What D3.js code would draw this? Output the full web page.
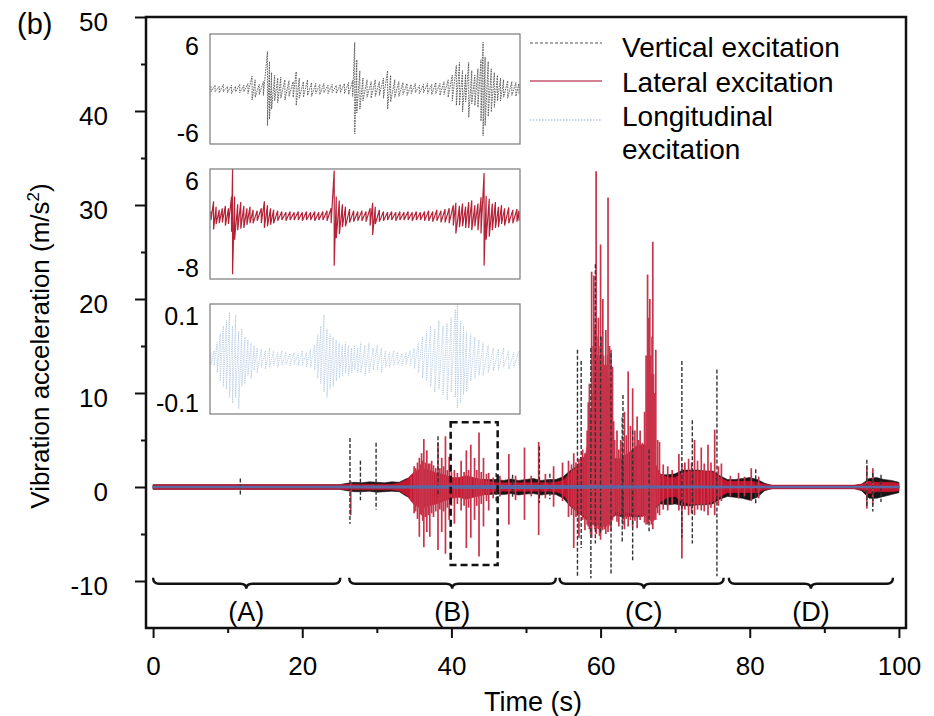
<!DOCTYPE html>
<html>
<head>
<meta charset="utf-8">
<script src="https://cdn.jsdelivr.net/npm/d3@7"></script>
<style>
  body { margin: 0; background: #fff; }
  svg { display: block; font-family: "Liberation Sans", Arial, sans-serif; }
</style>
</head>
<body>
<div id="chart"></div>
<script>
// ---- main trace: 1 s envelope of the dense part (index = time in s) ----
const lateralHi = [
  0.25,0.25,0.25,0.25,0.25,0.25,0.25,0.25,0.25,0.25,
  0.25,0.25,0.25,0.25,0.25,0.25,0.25,0.25,0.25,0.25,
  0.25,0.25,0.25,0.25,0.25,0.25,0.3,0.3,0.3,0.3,
  0.3,0.3,0.3,0.4,0.8,1.6,2.0,1.8,1.5,1.3,
  1.0,1.0,1.2,1.0,0.8,0.6,0.45,0.45,0.45,0.45,
  0.45,0.45,0.45,0.45,0.5,0.7,1.6,2.2,3.5,8.0,
  9.0,6.0,2.8,3.2,3.8,4.5,4.5,3.0,1.4,1.0,
  1.0,1.5,1.7,1.7,1.7,1.6,1.0,0.6,0.6,0.6,
  0.6,0.5,0.3,0.2,0.2,0.2,0.2,0.2,0.2,0.2,
  0.2,0.2,0.2,0.2,0.2,0.3,0.6,0.5,0.5,0.5,
  0.4
];
const lateralLo = [
  -0.25,-0.25,-0.25,-0.25,-0.25,-0.25,-0.25,-0.25,-0.25,-0.25,
  -0.25,-0.25,-0.25,-0.25,-0.25,-0.25,-0.25,-0.25,-0.25,-0.25,
  -0.25,-0.25,-0.25,-0.25,-0.25,-0.25,-0.3,-0.3,-0.3,-0.3,
  -0.3,-0.3,-0.3,-0.4,-0.9,-1.9,-2.3,-2.0,-1.8,-1.5,
  -1.2,-1.1,-1.3,-1.1,-0.9,-0.7,-0.45,-0.45,-0.45,-0.45,
  -0.45,-0.45,-0.45,-0.45,-0.5,-0.8,-2.0,-2.6,-3.2,-3.8,
  -3.8,-3.4,-2.6,-2.6,-2.8,-3.0,-3.0,-2.4,-1.6,-1.1,
  -1.0,-1.6,-1.8,-1.8,-1.8,-1.6,-1.0,-0.6,-0.6,-0.6,
  -0.6,-0.6,-0.3,-0.2,-0.2,-0.2,-0.2,-0.2,-0.2,-0.2,
  -0.2,-0.2,-0.2,-0.2,-0.2,-0.3,-0.7,-0.5,-0.5,-0.5,
  -0.4
];
const verticalHi = [
  0.25,0.25,0.25,0.25,0.25,0.25,0.25,0.25,0.25,0.25,
  0.25,0.25,0.25,0.25,0.25,0.25,0.25,0.25,0.25,0.25,
  0.25,0.25,0.25,0.25,0.25,0.25,0.4,0.5,0.45,0.55,
  0.5,0.45,0.55,0.5,0.9,1.0,1.0,1.0,1.0,1.0,
  0.8,0.8,0.8,0.8,0.8,0.8,0.8,0.7,0.85,0.7,
  0.8,0.9,0.7,0.8,0.8,1.1,1.8,2.3,3.0,4.0,
  4.0,3.5,3.0,3.0,2.6,2.6,2.6,2.2,1.3,1.3,
  1.4,1.8,1.8,1.8,1.7,1.7,1.2,0.8,0.8,0.9,
  1.0,0.8,0.4,0.15,0.15,0.15,0.15,0.15,0.15,0.15,
  0.15,0.15,0.15,0.15,0.15,0.3,0.9,1.0,0.8,0.7,
  0.5
];
const verticalLo = [
  -0.25,-0.25,-0.25,-0.25,-0.25,-0.25,-0.25,-0.25,-0.25,-0.25,
  -0.25,-0.25,-0.25,-0.25,-0.25,-0.25,-0.25,-0.25,-0.25,-0.25,
  -0.25,-0.25,-0.25,-0.25,-0.25,-0.25,-0.4,-0.5,-0.5,-0.45,
  -0.55,-0.5,-0.45,-0.5,-1.0,-1.1,-1.1,-1.1,-1.1,-1.1,
  -0.8,-0.8,-0.8,-0.8,-0.8,-0.8,-0.75,-0.8,-0.7,-0.85,
  -0.75,-0.7,-0.85,-0.75,-0.8,-1.2,-2.1,-2.7,-3.4,-4.0,
  -4.0,-3.6,-3.0,-3.2,-3.1,-3.2,-3.0,-2.5,-1.8,-1.9,
  -1.8,-2.0,-2.0,-1.9,-1.9,-1.8,-1.3,-1.0,-1.1,-1.2,
  -1.4,-1.1,-0.4,-0.15,-0.15,-0.15,-0.15,-0.15,-0.15,-0.15,
  -0.15,-0.15,-0.15,-0.15,-0.15,-0.4,-1.2,-1.2,-1.0,-0.8,
  -0.6
];
// longitudinal, 10 s steps (amplitude, m/s2)
const longitudinalAmp = [0.05,0.05,0.05,0.08,0.1,0.12,0.1,0.08,0.05,0.05,0.05];

// isolated spikes: [time, top, bottom]
const lateralSpikes = [
  [26.5,0.6,-3.0],[34.6,1.1,-1.4],[35.0,2.2,-2.8],[35.2,2.0,-2.6],[35.45,2.6,-3.4],[35.7,3.1,-5.3],
  [35.85,2.4,-2.9],[36.0,3.6,-3.0],[36.15,2.8,-3.6],[36.3,5.1,-6.4],[36.5,2.6,-3.2],[36.7,3.9,-4.8],
  [36.9,2.5,-3.0],[37.1,2.5,-5.3],[37.35,2.8,-2.8],[37.6,2.3,-3.2],[37.9,2.0,-2.6],[38.2,4.7,-6.7],
  [38.45,2.0,-2.4],[38.7,3.1,-4.8],[38.95,2.2,-2.6],[39.2,5.4,-7.1],[39.45,1.8,-2.2],[39.7,3.2,-3.5],
  [40.0,1.6,-2.0],[40.4,1.8,-3.9],[40.8,1.5,-1.8],[41.3,2.8,-2.5],[41.7,1.6,-2.0],[42.0,3.9,-6.5],
  [42.3,1.8,-2.2],[42.6,4.5,-5.4],[43.1,3.1,-3.5],[43.4,1.8,-2.0],[43.7,5.8,-7.4],[44.0,1.6,-1.8],
  [44.3,3.1,-4.2],[44.7,1.4,-1.5],[45.0,1.5,-2.5],[45.6,1.0,-1.2],[46.5,1.2,-1.0],[47.7,3.5,-4.0],
  [48.6,1.2,-1.4],[49.8,4.2,-3.5],[50.7,1.2,-1.0],[51.7,4.8,-5.1],[52.6,1.4,-1.2],[53.7,2.2,-2.1],
  [54.9,2.6,-1.5],[55.7,2.8,-3.2],
  [56.1,2.4,-3.0],[56.4,3.6,-6.5],[56.7,2.6,-3.2],[57.1,3.0,-5.4],[57.35,3.2,-3.0],[57.6,4.0,-3.5],
  [57.9,3.6,-4.6],[58.2,6.0,-4.0],[58.35,9,-4.2],[58.5,11,-4.5],[58.65,8,-5.0],[58.8,22.9,-5.4],
  [58.9,10,-3.8],[59.0,15,-4.0],[59.1,22.5,-4.0],[59.2,12,-4.2],[59.25,17,-4.5],[59.35,11,-4.0],
  [59.4,33.6,-5.0],[59.5,16,-4.4],[59.55,14,-3.8],[59.65,12,-4.0],[59.7,18,-4.5],[59.8,14,-4.2],
  [59.85,12,-5.2],[59.95,15,-4.0],[60.0,25.8,-5.6],[60.1,13,-4.4],[60.15,16,-4.0],[60.25,12,-4.6],
  [60.3,20,-4.0],[60.4,14,-4.2],[60.5,13,-4.5],[60.6,11,-3.8],[60.7,16.7,-5.0],[60.8,13,-4.2],
  [60.85,12,-3.6],[60.95,14,-4.0],[61.0,30.8,-4.8],[61.1,12,-4.2],[61.2,15,-4.0],[61.3,11,-3.8],
  [61.4,14.6,-4.7],[61.5,9,-3.6],[61.6,12.8,-3.5],[61.75,7,-3.2],[61.9,5,-3.0],
  [62.2,6,-3.7],[62.45,4,-4.2],[62.7,5,-3.0],[62.95,4.5,-3.6],[63.2,8,-4.5],[63.45,5.5,-3.4],
  [63.7,12.3,-4.2],[64.0,6.5,-3.5],[64.3,10.5,-4.3],[64.6,6.0,-3.6],[64.9,7.5,-4.4],[65.1,5.0,-3.0],
  [65.3,6.0,-3.5],[65.6,4.7,-3.2],[65.9,8.0,-3.8],[66.1,14.0,-4.0],[66.2,10,-3.6],[66.3,22.6,-4.0],
  [66.45,18,-3.8],[66.6,20,-3.5],[66.7,14,-3.6],[66.8,12,-4.0],[66.9,16,-3.8],[67.0,26.1,-4.5],
  [67.1,12,-3.6],[67.2,10,-3.5],[67.4,14.6,-3.5],[67.65,5.0,-2.8],
  [67.9,4.8,-3.0],[68.4,2.4,-2.4],[69.0,2.2,-2.5],[69.6,1.8,-1.8],[70.5,3.5,-2.5],[70.9,2.5,-7.6],
  [71.3,2.6,-2.4],[71.8,3.0,-3.0],[72.2,2.6,-2.8],[72.6,5.0,-3.0],[73.0,2.8,-2.4],[73.5,4.2,-2.5],
  [73.9,2.5,-2.6],[74.4,4.5,-3.0],[74.8,2.6,-2.2],[75.3,6.1,-3.0],[75.8,2.2,-2.0],[76.2,2.5,-1.5],
  [77.4,1.2,-1.0],[78.5,1.5,-1.2],[79.3,1.1,-1.0],[80.2,2.0,-1.5],[81.2,1.1,-1.2],
  [95.7,2.3,-2.3],[96.5,2.0,-1.9]
];
const verticalSpikes = [
  [11.7,0.9,-1.0],[26.4,5.2,-3.9],[27.8,2.8,-1.4],[29.9,4.7,-2.4],[38.2,5.4,-1.0],
  [46.0,1.5,-1.5],[48.2,1.3,-1.2],[51.8,4.3,-1.7],[53.2,1.4,-1.3],[56.9,14.6,-9.6],[57.4,13.4,-6.5],
  [58.7,14.8,-9.7],[59.3,23.7,-6.0],[60.0,16,-5.0],[61.4,14.2,-9.2],[62.9,7.4,-5.8],[63.0,9.8,-4.0],
  [64.3,6.0,-7.8],[66.5,4.0,-4.7],[70.9,13.4,-5.4],[72.3,7.1,-6.0],[75.6,12.5,-9.5],
  [80.8,1.9,-1.9],[95.7,2.9,-2.2],[96.5,1.5,-2.6],[97.6,1.3,-1.6]
];

// ---- insets: zoom of 40-46 s, [time, top, bottom] ----
const insetVertical = [
  [40.00,.3,-.3],[40.08,.4,-.3],[40.16,.3,-.4],[40.24,.5,-.3],[40.32,.3,-.4],[40.40,.4,-.5],
  [40.48,.3,-.3],[40.56,.5,-.4],[40.64,.4,-.3],[40.72,.6,-.5],[40.80,1.4,-1.2],[40.86,1.0,-.9],
  [40.94,.5,-.6],[41.02,.8,-.7],[41.10,4.1,-4.0],[41.14,3.0,-3.3],[41.18,1.8,-2.2],[41.24,1.5,-1.3],
  [41.30,1.2,-1.5],[41.36,1.3,-1.0],[41.44,1.0,-1.2],[41.52,.9,-.8],[41.60,.8,-.9],[41.66,1.9,-1.8],
  [41.72,1.2,-1.0],[41.80,.8,-.9],[41.88,1.0,-.7],[41.96,.7,-.8],[42.04,.6,-.5],[42.12,.5,-.6],
  [42.20,.6,-.4],[42.28,.4,-.5],[42.36,.5,-.4],[42.44,.4,-.5],[42.52,.5,-.4],[42.60,.6,-.5],
  [42.68,.7,-.6],[42.76,.9,-.8],[42.80,5.1,-4.9],[42.84,3.2,-2.6],[42.90,2.0,-2.2],[42.96,1.2,-1.3],
  [43.04,1.0,-.9],[43.12,.8,-1.0],[43.20,1.0,-.8],[43.28,.8,-.7],[43.36,1.2,-1.0],[43.44,2.0,-2.2],
  [43.50,1.5,-1.4],[43.58,1.0,-.9],[43.66,.8,-.8],[43.74,.7,-.6],[43.82,.6,-.7],[43.90,.5,-.5],
  [43.98,.6,-.4],[44.06,.4,-.5],[44.14,.5,-.4],[44.22,.6,-.5],[44.30,.5,-.6],[44.38,.7,-.5],
  [44.46,.6,-.7],[44.54,.8,-.6],[44.62,1.0,-.9],[44.70,1.5,-1.3],[44.78,2.6,-1.8],[44.84,2.9,-1.8],
  [44.90,2.0,-2.5],[44.96,1.6,-1.4],[45.02,2.9,-3.1],[45.08,2.0,-1.6],[45.14,1.5,-1.8],[45.20,2.2,-2.0],
  [45.26,3.2,-3.5],[45.30,5.1,-5.1],[45.34,3.5,-4.0],[45.40,3.0,-3.0],[45.46,2.2,-2.5],[45.52,1.8,-2.0],
  [45.58,1.5,-1.3],[45.64,1.2,-1.3],[45.70,1.0,-.9],[45.78,.9,-1.0],[45.86,.8,-.7],[45.94,.7,-.8],
  [46.00,.6,-.6]
];
const insetLateral = [
  [40.00,.6,-.5],[40.05,1.9,-1.7],[40.10,1.2,-1.0],[40.16,.8,-.9],[40.22,1.0,-.8],[40.28,1.3,-1.2],
  [40.34,1.0,-1.0],[40.40,2.5,-2.0],[40.42,6.0,-7.4],[40.46,2.5,-3.0],[40.52,1.5,-1.8],[40.58,1.8,-1.6],
  [40.64,1.3,-1.5],[40.70,1.0,-1.1],[40.76,1.2,-.9],[40.82,.8,-.9],[40.90,.7,-.6],[40.98,1.0,-.9],
  [41.04,1.9,-1.5],[41.10,1.4,-1.3],[41.16,1.0,-1.1],[41.22,.8,-.9],[41.30,.7,-.6],[41.38,.6,-.5],
  [41.46,.5,-.6],[41.54,.6,-.5],[41.62,.5,-.5],[41.70,.6,-.5],[41.78,.5,-.6],[41.86,.6,-.5],
  [41.94,.5,-.5],[42.02,.6,-.6],[42.10,.5,-.5],[42.18,.6,-.5],[42.26,.7,-.6],[42.34,1.0,-.9],
  [42.40,5.8,-6.3],[42.44,2.5,-2.8],[42.50,2.0,-2.3],[42.56,1.5,-1.4],[42.62,1.2,-1.3],[42.70,.9,-.8],
  [42.78,.7,-.7],[42.86,.6,-.6],[42.94,.7,-.6],[43.02,.6,-.7],[43.10,1.0,-1.2],[43.15,1.7,-2.4],
  [43.20,1.2,-1.0],[43.28,.8,-.7],[43.36,.6,-.6],[43.44,.5,-.5],[43.52,.6,-.5],[43.60,.5,-.6],
  [43.68,.6,-.5],[43.76,.5,-.5],[43.84,.6,-.5],[43.92,.5,-.6],[44.00,.6,-.5],[44.08,.5,-.5],
  [44.16,.6,-.6],[44.24,.7,-.6],[44.32,.6,-.7],[44.40,.8,-.6],[44.48,.7,-.8],[44.56,.9,-.8],
  [44.64,1.0,-.9],[44.72,1.4,-1.2],[44.77,1.7,-2.2],[44.84,1.3,-1.4],[44.90,1.6,-1.3],[44.96,1.2,-1.5],
  [45.02,1.8,-1.5],[45.08,2.0,-1.8],[45.14,1.4,-1.3],[45.20,1.6,-1.8],[45.26,2.4,-2.2],[45.32,5.5,-6.3],
  [45.36,2.6,-3.0],[45.42,2.2,-2.6],[45.48,1.6,-1.8],[45.54,1.8,-1.5],[45.60,1.2,-1.4],[45.66,1.4,-1.0],
  [45.72,1.0,-1.2],[45.80,1.1,-.9],[45.88,.8,-.9],[45.96,.9,-.7],[46.00,.7,-.6]
];
const insetLongitudinal = [
  [40.00,.012,-.010],[40.06,.015,-.012],[40.12,.030,-.025],[40.18,.045,-.040],[40.24,.060,-.050],
  [40.30,.070,-.055],[40.36,.085,-.070],[40.42,.060,-.080],[40.48,.080,-.070],[40.54,.050,-.090],
  [40.60,.055,-.050],[40.66,.040,-.045],[40.72,.035,-.030],[40.78,.030,-.035],[40.84,.025,-.020],
  [40.90,.020,-.025],[40.98,.018,-.015],[41.06,.015,-.018],[41.14,.020,-.015],[41.22,.015,-.012],
  [41.30,.012,-.015],[41.38,.015,-.012],[41.46,.012,-.010],[41.54,.010,-.012],[41.62,.012,-.010],
  [41.70,.010,-.012],[41.78,.015,-.012],[41.86,.012,-.015],[41.94,.018,-.015],[42.02,.025,-.020],
  [42.08,.045,-.035],[42.14,.060,-.045],[42.20,.080,-.060],[42.26,.055,-.070],[42.32,.045,-.055],
  [42.38,.040,-.050],[42.44,.035,-.040],[42.50,.030,-.035],[42.56,.025,-.030],[42.62,.030,-.025],
  [42.68,.025,-.030],[42.74,.020,-.025],[42.80,.025,-.020],[42.86,.020,-.025],[42.92,.030,-.025],
  [43.00,.025,-.030],[43.08,.030,-.025],[43.16,.020,-.020],[43.24,.025,-.020],[43.32,.020,-.025],
  [43.40,.015,-.015],[43.48,.012,-.015],[43.56,.015,-.012],[43.64,.012,-.010],[43.72,.010,-.012],
  [43.80,.012,-.010],[43.88,.015,-.012],[43.96,.020,-.018],[44.04,.030,-.025],[44.12,.040,-.035],
  [44.20,.050,-.040],[44.28,.060,-.050],[44.36,.055,-.060],[44.44,.070,-.055],[44.52,.060,-.065],
  [44.60,.065,-.075],[44.68,.075,-.060],[44.76,.090,-.070],[44.80,.100,-.090],[44.86,.070,-.080],
  [44.92,.060,-.065],[44.98,.050,-.060],[45.06,.045,-.040],[45.14,.040,-.035],[45.22,.035,-.030],
  [45.30,.030,-.030],[45.40,.025,-.025],[45.50,.020,-.022],[45.60,.018,-.020],[45.70,.020,-.015],
  [45.80,.015,-.018],[45.90,.012,-.015],[46.00,.015,-.012]
];
const insetDomains = [[-6, 6], [-8, 6], [-0.1, 0.1]];
const insetTickLabels = [['6', '-6'], ['6', '-8'], ['0.1', '-0.1']];
const insetWindow = [40, 46];

// ---- axes / annotations ----
const xTicks = [0, 20, 40, 60, 80, 100];
const xMinorTicks = [10, 30, 50, 70, 90];
const yTicks = [-10, 0, 10, 20, 30, 40, 50];
const yMinorTicks = [-5, 5, 15, 25, 35, 45];
const phaseLabels = ['(A)', '(B)', '(C)', '(D)'];
const phaseStart = [0, 26.3, 54.5, 77.2];
const phaseEnd = [25.1, 54.0, 76.5, 99.2];
const phaseMid = [12.5, 40.1, 65.8, 88.2];
const zoomBox = { t0: 39.9, t1: 46.2, top: 6.9, bottom: -8.3 };
const legendLabels = [['Vertical excitation'], ['Lateral excitation'], ['Longitudinal', 'excitation']];

const colors = {
    vertical: '#151515',
    lateral: '#c3162f',
    lateralSpike: '#c8344b',
    longitudinal: '#5d67a3',
    insetVertical: '#555',
    insetLateral: '#b52339',
    insetLong: '#a9c4de'
};

const W = 934, H = 716;
const margin = { top: 17, right: 28, bottom: 88, left: 146 };
const innerW = W - margin.left - margin.right;
const innerH = H - margin.top - margin.bottom;

const svg = d3.select('#chart').append('svg')
    .attr('width', W)
    .attr('height', H);

const x = d3.scaleLinear().domain([-0.95, 100.95]).range([margin.left, W - margin.right]);
const y = d3.scaleLinear().domain([-15, 50]).range([H - margin.bottom, margin.top]);

svg.append('defs').append('clipPath').attr('id', 'plot-clip')
    .append('rect')
    .attr('x', margin.left).attr('y', margin.top)
    .attr('width', innerW).attr('height', innerH);

const plot = svg.append('g').attr('clip-path', 'url(#plot-clip)');

// dense envelopes
const core = (hi, lo) => hi.map((h, i) => ({ t: i, hi: h, lo: lo[i] }));
const area = d3.area().x(d => x(d.t)).y0(d => y(d.lo)).y1(d => y(d.hi));

plot.append('path')
    .datum(core(verticalHi, verticalLo))
    .attr('d', area)
    .attr('fill', colors.vertical)
    .attr('stroke', colors.vertical)
    .attr('stroke-width', 0.6);

plot.append('path')
    .datum(core(lateralHi, lateralLo))
    .attr('d', area)
    .attr('fill', colors.lateral)
    .attr('stroke', colors.lateral)
    .attr('stroke-width', 0.6);

plot.selectAll('.lat-spike')
    .data(lateralSpikes)
    .join('line')
    .attr('class', 'lat-spike')
    .attr('x1', d => x(d[0])).attr('x2', d => x(d[0]))
    .attr('y1', d => y(d[1])).attr('y2', d => y(d[2]))
    .attr('stroke', colors.lateralSpike)
    .attr('stroke-width', 1.7);

plot.selectAll('.vert-spike')
    .data(verticalSpikes)
    .join('line')
    .attr('class', 'vert-spike')
    .attr('x1', d => x(d[0])).attr('x2', d => x(d[0]))
    .attr('y1', d => y(d[1])).attr('y2', d => y(d[2]))
    .attr('stroke', '#333')
    .attr('stroke-width', 1.4)
    .attr('stroke-dasharray', '4,2');

plot.append('path')
    .datum(longitudinalAmp.map((a, i) => ({ t: i * 10, hi: a, lo: -a })))
    .attr('d', area)
    .attr('fill', colors.longitudinal)
    .attr('stroke', colors.longitudinal)
    .attr('stroke-width', 1.6);

// dashed zoom window
svg.append('rect')
    .attr('x', x(zoomBox.t0))
    .attr('y', y(zoomBox.top))
    .attr('width', x(zoomBox.t1) - x(zoomBox.t0))
    .attr('height', y(zoomBox.bottom) - y(zoomBox.top))
    .attr('fill', 'none')
    .attr('stroke', '#111')
    .attr('stroke-width', 2.5)
    .attr('stroke-dasharray', '7,4');

// phase braces
const braceY = y(-10.3);
phaseLabels.forEach((lab, i) => {
    const x0 = x(phaseStart[i]), x1 = x(phaseEnd[i]), xm = x(phaseMid[i]);
    const r = 6;
    const p = `M${x0},${braceY - r} Q${x0},${braceY} ${x0 + r},${braceY} L${xm - r},${braceY} ` +
        `Q${xm},${braceY} ${xm},${braceY + 5} Q${xm},${braceY} ${xm + r},${braceY} ` +
        `L${x1 - r},${braceY} Q${x1},${braceY} ${x1},${braceY - r}`;
    svg.append('path').attr('d', p)
        .attr('fill', 'none').attr('stroke', '#111').attr('stroke-width', 2.4);
    svg.append('text')
        .attr('x', xm)
        .attr('y', braceY + 37)
        .attr('text-anchor', 'middle')
        .attr('font-size', '27px')
        .text(lab);
});

// insets
const insetLeft = 210, insetRight = 520, insetH = 110;
const insetTops = [34, 169, 304];
const insetSeries = [insetVertical, insetLateral, insetLongitudinal];
const insetStyles = [
    { color: colors.insetVertical, width: 0.9, dash: '1.6,1' },
    { color: colors.insetLateral, width: 1.2, dash: null },
    { color: colors.insetLong, width: 0.8, dash: '1.2,1' }
];

insetSeries.forEach((series, i) => {
    const top = insetTops[i];
    const xs = d3.scaleLinear().domain(insetWindow).range([insetLeft + 1, insetRight - 1]);
    const ys = d3.scaleLinear().domain(insetDomains[i]).range([top + insetH, top]);
    const pts = [];
    series.forEach(d => { pts.push([d[0], d[1]]); pts.push([d[0], d[2]]); });

    svg.append('defs').append('clipPath').attr('id', 'inset-clip-' + i)
        .append('rect')
        .attr('x', insetLeft).attr('y', top)
        .attr('width', insetRight - insetLeft).attr('height', insetH);

    svg.append('rect')
        .attr('x', insetLeft).attr('y', top)
        .attr('width', insetRight - insetLeft).attr('height', insetH)
        .attr('fill', '#fff');

    const st = insetStyles[i];
    svg.append('path')
        .datum(pts)
        .attr('clip-path', `url(#inset-clip-${i})`)
        .attr('d', d3.line().x(d => xs(d[0])).y(d => ys(d[1])))
        .attr('fill', 'none')
        .attr('stroke', st.color)
        .attr('stroke-width', st.width)
        .attr('stroke-dasharray', st.dash);

    svg.append('rect')
        .attr('x', insetLeft).attr('y', top)
        .attr('width', insetRight - insetLeft).attr('height', insetH)
        .attr('fill', 'none')
        .attr('stroke', '#7a7a7a')
        .attr('stroke-width', 1.2);

    svg.append('text')
        .attr('x', 199).attr('y', top + 12)
        .attr('dy', '0.35em')
        .attr('text-anchor', 'end')
        .attr('font-size', '25px')
        .text(insetTickLabels[i][0]);
    svg.append('text')
        .attr('x', 199).attr('y', top + insetH - 11)
        .attr('dy', '0.35em')
        .attr('text-anchor', 'end')
        .attr('font-size', '25px')
        .text(insetTickLabels[i][1]);
});

// legend
const legendRows = [43, 81, 120];
const legendStyles = [
    { color: '#555', width: 1.2, dash: '3,2' },
    { color: '#c4566d', width: 1.3, dash: null },
    { color: '#8fb0cc', width: 1.1, dash: '1.5,1.5' }
];
const textBaselines = [[57], [92], [126, 159]];
legendLabels.forEach((lines, i) => {
    svg.append('line')
        .attr('x1', 530).attr('x2', 602)
        .attr('y1', legendRows[i]).attr('y2', legendRows[i])
        .attr('stroke', legendStyles[i].color)
        .attr('stroke-width', legendStyles[i].width)
        .attr('stroke-dasharray', legendStyles[i].dash);
    lines.forEach((ln, j) => {
        svg.append('text')
            .attr('x', 622).attr('y', textBaselines[i][j])
            .attr('font-size', '28px')
            .text(ln);
    });
});

// axes
const xAxis = svg.append('g')
    .attr('transform', `translate(0,${H - margin.bottom})`)
    .call(d3.axisBottom(x).tickValues(xTicks).tickSize(10).tickPadding(19)
        .tickSizeOuter(0).tickFormat(d => String(d)));
svg.append('g')
    .attr('transform', `translate(0,${H - margin.bottom})`)
    .call(d3.axisBottom(x).tickValues(xMinorTicks).tickSize(5).tickFormat('').tickSizeOuter(0));
const yAxis = svg.append('g')
    .attr('transform', `translate(${margin.left},0)`)
    .call(d3.axisLeft(y).tickValues(yTicks).tickSize(11).tickPadding(27)
        .tickSizeOuter(0).tickFormat(d => String(d)));
svg.append('g')
    .attr('transform', `translate(${margin.left},0)`)
    .call(d3.axisLeft(y).tickValues(yMinorTicks).tickSize(5).tickFormat('').tickSizeOuter(0));

svg.selectAll('.domain').remove();
svg.selectAll('.tick line').attr('stroke', '#111').attr('stroke-width', 2);
xAxis.selectAll('text').attr('font-size', '26px').attr('fill', '#000').attr('font-family', null);
yAxis.selectAll('text').attr('font-size', '26px').attr('fill', '#000').attr('font-family', null).attr('dy', '0.5em');

// frame
svg.append('rect')
    .attr('x', margin.left).attr('y', margin.top)
    .attr('width', innerW).attr('height', innerH)
    .attr('fill', 'none')
    .attr('stroke', '#111')
    .attr('stroke-width', 2.5);

// titles
svg.append('text')
    .attr('x', 533).attr('y', 711)
    .attr('text-anchor', 'middle')
    .attr('font-size', '27px')
    .text('Time (s)');

const yl = svg.append('text')
    .attr('transform', 'translate(49,346) rotate(-90)')
    .attr('text-anchor', 'middle')
    .attr('font-size', '26px');
yl.append('tspan').text('Vibration acceleration (m/s');
yl.append('tspan').attr('font-size', '17px').attr('dy', '-10').text('2');
yl.append('tspan').attr('dy', '10').text(')');

svg.append('text')
    .attr('x', 17).attr('y', 34)
    .attr('font-size', '29px')
    .text('(b)');
</script>
</body>
</html>
